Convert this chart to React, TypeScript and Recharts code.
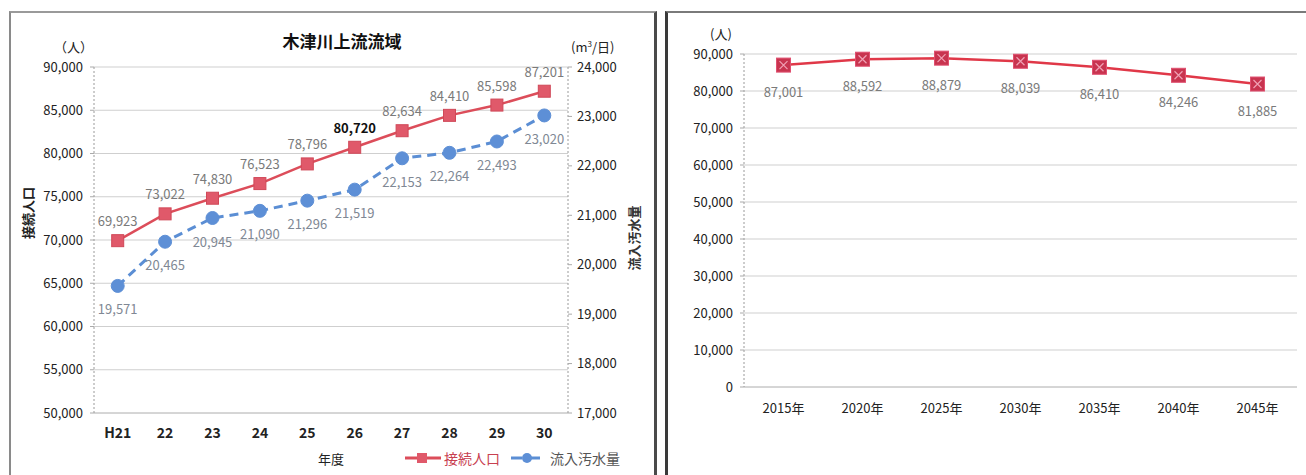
import React from 'react';
import { LineChart, Line, XAxis, YAxis, CartesianGrid, LabelList } from 'recharts';

// 木津川上流流域: connected population (left axis) and inflow sewage volume (right axis)
const basinYears = ['H21', '22', '23', '24', '25', '26', '27', '28', '29', '30'];
const connectedPopulation = [69923, 73022, 74830, 76523, 78796, 80720, 82634, 84410, 85598, 87201];
const inflowVolume = [19571, 20465, 20945, 21090, 21296, 21519, 22153, 22264, 22493, 23020];
const populationTicks = [50000, 55000, 60000, 65000, 70000, 75000, 80000, 85000, 90000];
const inflowTicks = [17000, 18000, 19000, 20000, 21000, 22000, 23000, 24000];

// Population forecast
const forecastYears = ['2015年', '2020年', '2025年', '2030年', '2035年', '2040年', '2045年'];
const forecastPopulation = [87001, 88592, 88879, 88039, 86410, 84246, 81885];
const forecastTicks = [0, 10000, 20000, 30000, 40000, 50000, 60000, 70000, 80000, 90000];

const basinData = basinYears.map((year, i) => ({
  year,
  population: connectedPopulation[i],
  inflow: inflowVolume[i],
}));
const forecastData = forecastYears.map((year, i) => ({ year, population: forecastPopulation[i] }));

const JP = "'Noto Sans CJK JP', sans-serif";
const NUM = "'Liberation Sans Narrow', 'Arial Narrow', 'Noto Sans CJK JP', sans-serif";
const RED = '#dc4d5a';
const BLUE = '#5b8ed4';

const fmt = (v: number) => v.toLocaleString('en-US');

const tickStyle = { fontSize: 13, fontFamily: NUM, fill: '#222' };

const SquareDot = (props: any) => {
  const { cx, cy, index } = props;
  return <rect key={`sq-${index}`} x={cx - 6} y={cy - 6} width={12} height={12} fill="#e0596a" stroke="#d04858" strokeWidth={1} />;
};

const CircleDot = (props: any) => {
  const { cx, cy, index } = props;
  return <circle key={`ci-${index}`} cx={cx} cy={cy} r={6.5} fill="#5d8fd6" stroke="#5d8fd6" />;
};

const CrossSquareDot = (props: any) => {
  const { cx, cy, index } = props;
  return (
    <g key={`xs-${index}`}>
      <rect x={cx - 7} y={cy - 7} width={14} height={14} fill="#c8344f" stroke="#e05070" strokeWidth={1} />
      <path d={`M${cx - 4},${cy - 4}L${cx + 4},${cy + 4}M${cx + 4},${cy - 4}L${cx - 4},${cy + 4}`} stroke="#f0a0b4" strokeWidth={1.2} />
    </g>
  );
};

const popLabel = (props: any) => {
  const { x, y, value, index } = props;
  const strong = index === 5;
  return (
    <text
      key={`pl-${index}`}
      x={x}
      y={y - 20}
      textAnchor="middle"
      dominantBaseline="central"
      fontSize={13}
      fontFamily={NUM}
      fontWeight={strong ? 700 : 400}
      fill={strong ? '#111' : '#7a7a7a'}
    >
      {fmt(value)}
    </text>
  );
};

const inflowLabel = (props: any) => {
  const { x, y, value, index } = props;
  return (
    <text key={`il-${index}`} x={x} y={y + 23} textAnchor="middle" dominantBaseline="central" fontSize={13} fontFamily={NUM} fill="#808894">
      {fmt(value)}
    </text>
  );
};

const forecastLabel = (props: any) => {
  const { x, y, value, index } = props;
  return (
    <text key={`fl-${index}`} x={x} y={y + 26} textAnchor="middle" dominantBaseline="central" fontSize={13} fontFamily={NUM} fill="#7a7a7a">
      {fmt(value)}
    </text>
  );
};

const place = (left: number, top: number, extra: React.CSSProperties = {}): React.CSSProperties => ({
  position: 'absolute',
  left,
  top,
  whiteSpace: 'nowrap',
  lineHeight: 1,
  ...extra,
});

export default function App() {
  return (
    <div style={{ position: 'absolute', left: 0, top: 0, width: 1306, height: 475, background: '#fff', overflow: 'hidden' }}>
      {/* panel frames */}
      <div style={{ position: 'absolute', left: 9, top: 11, width: 643, height: 480, borderLeft: '2px solid #8a8a8a', borderTop: '2px solid #9a9a9a', borderRight: '3px solid #4a4a4a' }} />
      <div style={{ position: 'absolute', left: 665, top: 11, width: 660, height: 480, borderLeft: '3px solid #3a3a3a', borderTop: '2px solid #7a7a7a' }} />

      {/* left chart */}
      <div style={{ position: 'absolute', left: 10, top: 10 }}>
        <LineChart width={645} height={465} data={basinData} margin={{ top: 57, right: 27, bottom: 32, left: 0 }}>
          <CartesianGrid yAxisId="pop" vertical={false} stroke="#cfcfcf" />
          <XAxis
            dataKey="year"
            padding={{ left: 23.7, right: 23.7 }}
            tickLine={false}
            tickSize={0}
            tickMargin={15}
            axisLine={{ stroke: '#c4c4c4' }}
            tick={{ ...tickStyle, fontSize: 14, fontWeight: 700, fill: '#222' }}
            interval={0}
          />
          <YAxis
            yAxisId="pop"
            width={84}
            domain={[50000, 90000]}
            ticks={populationTicks}
            tickFormatter={fmt}
            tickSize={4}
            tickMargin={7}
            tickLine={{ stroke: '#aaa' }}
            axisLine={{ stroke: '#9a9a9a', strokeDasharray: '2 2' }}
            tick={tickStyle}
            allowDataOverflow
          />
          <YAxis
            yAxisId="inflow"
            orientation="right"
            width={60}
            domain={[17000, 24000]}
            ticks={inflowTicks}
            tickFormatter={fmt}
            tickSize={4}
            tickMargin={5}
            tickLine={{ stroke: '#aaa' }}
            axisLine={{ stroke: '#9a9a9a', strokeDasharray: '2 2' }}
            tick={{ ...tickStyle, textAnchor: 'start' }}
            allowDataOverflow
          />
          <Line
            yAxisId="inflow"
            dataKey="inflow"
            stroke={BLUE}
            strokeWidth={3}
            strokeDasharray="9 6"
            dot={CircleDot}
            activeDot={false}
            isAnimationActive={false}
          >
            <LabelList dataKey="inflow" content={inflowLabel} />
          </Line>
          <Line
            yAxisId="pop"
            dataKey="population"
            stroke={RED}
            strokeWidth={2.5}
            dot={SquareDot}
            activeDot={false}
            isAnimationActive={false}
          >
            <LabelList dataKey="population" content={popLabel} />
          </Line>
        </LineChart>
      </div>

      {/* left chart texts */}
      <div style={place(342, 32, { transform: 'translateX(-50%)', fontFamily: JP, fontWeight: 700, fontSize: 17, color: '#111' })}>木津川上流流域</div>
      <div style={place(54, 40, { fontFamily: JP, fontSize: 13, color: '#222' })}>（人）</div>
      <div style={place(571, 40, { fontFamily: JP, fontSize: 13, color: '#222' })}>
        (m<sup style={{ fontSize: 8 }}>3</sup>/日)
      </div>
      <div style={place(27, 213, { transform: 'translate(-50%, -50%) rotate(-90deg)', fontFamily: JP, fontWeight: 700, fontSize: 13, color: '#222' })}>接続人口</div>
      <div style={place(633, 238, { transform: 'translate(-50%, -50%) rotate(-90deg)', fontFamily: JP, fontWeight: 700, fontSize: 13, color: '#333' })}>流入汚水量</div>
      <div style={place(318, 452, { fontFamily: JP, fontSize: 13, color: '#222' })}>年度</div>

      {/* legend */}
      <div style={place(404, 451, { display: 'flex', alignItems: 'center', fontFamily: JP, fontSize: 14 })}>
        <svg width={38} height={14}>
          <line x1={1} y1={7} x2={37} y2={7} stroke={RED} strokeWidth={3} />
          <rect x={13} y={2} width={10} height={10} fill="#e0596a" />
        </svg>
        <span style={{ color: '#c84050', marginLeft: 2 }}>接続人口</span>
        <svg width={36} height={14} style={{ marginLeft: 10 }}>
          <line x1={1} y1={7} x2={12} y2={7} stroke={BLUE} strokeWidth={3} />
          <line x1={20} y1={7} x2={30} y2={7} stroke={BLUE} strokeWidth={3} />
          <circle cx={17} cy={7} r={5} fill="#5d8fd6" />
        </svg>
        <span style={{ color: '#555', marginLeft: 4 }}>流入汚水量</span>
      </div>

      {/* right chart */}
      <div style={{ position: 'absolute', left: 665, top: 12 }}>
        <LineChart width={641} height={463} data={forecastData} margin={{ top: 42, right: 9, bottom: 58, left: 0 }}>
          <CartesianGrid vertical={false} stroke="#cfcfcf" />
          <XAxis
            dataKey="year"
            padding={{ left: 39.5, right: 39.5 }}
            tickLine={false}
            tickSize={0}
            tickMargin={17}
            axisLine={{ stroke: '#c4c4c4' }}
            tick={{ fontSize: 13, fontFamily: NUM, fill: '#222' }}
            interval={0}
          />
          <YAxis
            width={79}
            domain={[0, 90000]}
            ticks={forecastTicks}
            tickFormatter={fmt}
            tickSize={4}
            tickMargin={7}
            tickLine={{ stroke: '#aaa' }}
            axisLine={{ stroke: '#9a9a9a', strokeDasharray: '2 2' }}
            tick={tickStyle}
          />
          <Line
            dataKey="population"
            stroke="#e03848"
            strokeWidth={2.5}
            dot={CrossSquareDot}
            activeDot={false}
            isAnimationActive={false}
          >
            <LabelList dataKey="population" content={forecastLabel} />
          </Line>
        </LineChart>
      </div>
      <div style={place(710, 27, { fontFamily: JP, fontSize: 13, color: '#222' })}>(人)</div>
    </div>
  );
}
